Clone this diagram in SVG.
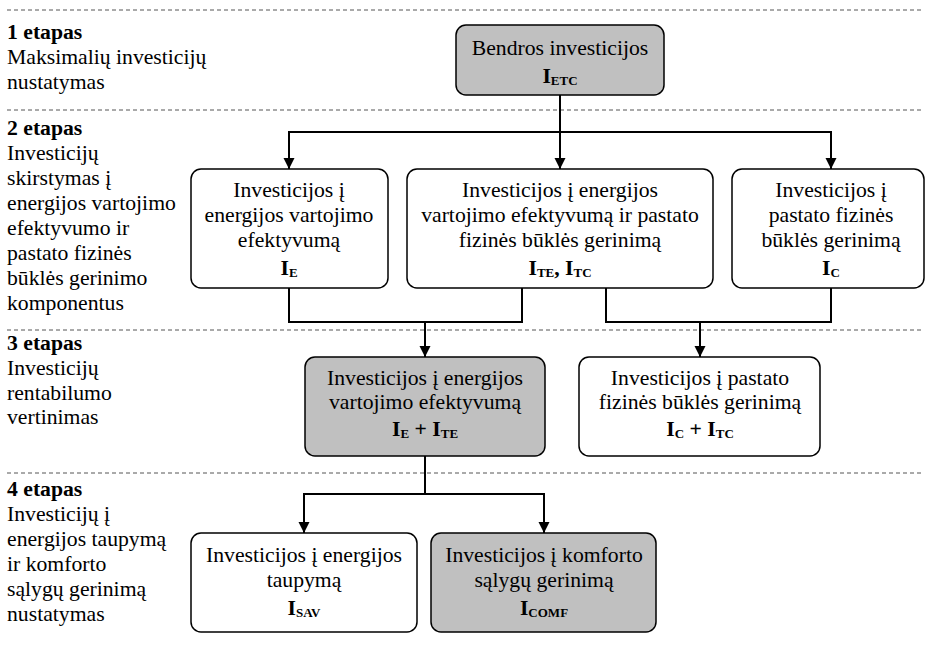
<svg xmlns="http://www.w3.org/2000/svg" width="926" height="652" viewBox="0 0 926 652">
  <style>
    text { font-family: "Liberation Serif", "Times New Roman", serif; font-size: 21.7px; fill: #000; }
    .b { font-weight: bold; }
    .c { text-anchor: middle; }
    .sub { font-size: 13px; font-weight: bold; }
    .box { fill: #fff; stroke: #000; stroke-width: 1.5; }
    .gray { fill: #c0c0c0; stroke: #000; stroke-width: 1.5; }
    .sep { stroke: #555; stroke-width: 1; stroke-dasharray: 4 3; fill: none; }
    .con { stroke: #000; stroke-width: 2; fill: none; }
  </style>
  <defs>
    <marker id="arrow" markerUnits="userSpaceOnUse" markerWidth="12" markerHeight="12" refX="11" refY="5.5" orient="auto">
      <path d="M0,0 L11,5.5 L0,11 Z" fill="#000"/>
    </marker>
  </defs>

  <!-- stage separators -->
  <g id="separators">
    <line class="sep" x1="7" y1="10" x2="922" y2="10"/>
    <line class="sep" x1="7" y1="110" x2="922" y2="110"/>
    <line class="sep" x1="7" y1="330" x2="922" y2="330"/>
    <line class="sep" x1="7" y1="473" x2="922" y2="473"/>
  </g>

  <!-- stage descriptions -->
  <g id="stage1">
    <text x="7" y="39" class="b">1 etapas</text>
    <text x="7" y="64">Maksimalių investicijų</text>
    <text x="7" y="89">nustatymas</text>
  </g>
  <g id="stage2">
    <text x="7" y="135" class="b">2 etapas</text>
    <text x="7" y="160">Investicijų</text>
    <text x="7" y="185">skirstymas į</text>
    <text x="7" y="210">energijos vartojimo</text>
    <text x="7" y="235">efektyvumo ir</text>
    <text x="7" y="260">pastato fizinės</text>
    <text x="7" y="285">būklės gerinimo</text>
    <text x="7" y="310">komponentus</text>
  </g>
  <g id="stage3">
    <text x="7" y="350" class="b">3 etapas</text>
    <text x="7" y="375">Investicijų</text>
    <text x="7" y="400">rentabilumo</text>
    <text x="7" y="424">vertinimas</text>
  </g>
  <g id="stage4">
    <text x="7" y="496" class="b">4 etapas</text>
    <text x="7" y="521">Investicijų į</text>
    <text x="7" y="546">energijos taupymą</text>
    <text x="7" y="571">ir komforto</text>
    <text x="7" y="596">sąlygų gerinimą</text>
    <text x="7" y="621">nustatymas</text>
  </g>

  <!-- connectors -->
  <g id="connectors">
    <path class="con" d="M560,95 V169" marker-end="url(#arrow)"/>
    <path class="con" d="M560,132 H289 V169" marker-end="url(#arrow)"/>
    <path class="con" d="M560,132 H831 V169" marker-end="url(#arrow)"/>
    <path class="con" d="M289,288 V322 H425 V357" marker-end="url(#arrow)"/>
    <path class="con" d="M522,288 V322 H425"/>
    <path class="con" d="M606,288 V322 H831 V288"/>
    <path class="con" d="M700,322 V357" marker-end="url(#arrow)"/>
    <path class="con" d="M425,456 V494 H304 V533" marker-end="url(#arrow)"/>
    <path class="con" d="M425,494 H544 V533" marker-end="url(#arrow)"/>
  </g>

  <!-- nodes -->
  <g id="total">
    <rect class="gray" x="456" y="25" width="208" height="70" rx="10"/>
    <text x="560" y="55" class="c">Bendros investicijos</text>
    <text x="560" y="83" class="c b">I<tspan class="sub" dy="2">ETC</tspan></text>
  </g>

  <g id="energy-efficiency">
    <rect class="box" x="191" y="169" width="197" height="119" rx="10"/>
    <text x="289" y="197" class="c">Investicijos į</text>
    <text x="289" y="222" class="c">energijos vartojimo</text>
    <text x="289" y="247" class="c">efektyvumą</text>
    <text x="289" y="275" class="c b">I<tspan class="sub" dy="2">E</tspan></text>
  </g>

  <g id="combined">
    <rect class="box" x="407" y="169" width="306" height="119" rx="10"/>
    <text x="560" y="197" class="c">Investicijos į energijos</text>
    <text x="560" y="222" class="c">vartojimo efektyvumą ir pastato</text>
    <text x="560" y="247" class="c">fizinės būklės gerinimą</text>
    <text x="560" y="275" class="c b">I<tspan class="sub" dy="2">TE</tspan><tspan dy="-2">, I</tspan><tspan class="sub" dy="2">TC</tspan></text>
  </g>

  <g id="building-condition">
    <rect class="box" x="732" y="169" width="192" height="119" rx="10"/>
    <text x="831" y="197" class="c">Investicijos į</text>
    <text x="831" y="222" class="c">pastato fizinės</text>
    <text x="831" y="247" class="c">būklės gerinimą</text>
    <text x="831" y="275" class="c b">I<tspan class="sub" dy="2">C</tspan></text>
  </g>

  <g id="efficiency-total">
    <rect class="gray" x="305" y="357" width="240" height="99" rx="10"/>
    <text x="425" y="385" class="c">Investicijos į energijos</text>
    <text x="425" y="409" class="c">vartojimo efektyvumą</text>
    <text x="425" y="436" class="c b">I<tspan class="sub" dy="2">E</tspan><tspan dy="-2"> + I</tspan><tspan class="sub" dy="2">TE</tspan></text>
  </g>

  <g id="condition-total">
    <rect class="box" x="579" y="357" width="241" height="99" rx="10"/>
    <text x="700" y="385" class="c">Investicijos į pastato</text>
    <text x="700" y="409" class="c">fizinės būklės gerinimą</text>
    <text x="700" y="436" class="c b">I<tspan class="sub" dy="2">C</tspan><tspan dy="-2"> + I</tspan><tspan class="sub" dy="2">TC</tspan></text>
  </g>

  <g id="saving">
    <rect class="box" x="191" y="533" width="226" height="99" rx="10"/>
    <text x="304" y="562" class="c">Investicijos į energijos</text>
    <text x="304" y="587" class="c">taupymą</text>
    <text x="304" y="615" class="c b">I<tspan class="sub" dy="2">SAV</tspan></text>
  </g>

  <g id="comfort">
    <rect class="gray" x="431" y="533" width="225" height="99" rx="10"/>
    <text x="544" y="562" class="c">Investicijos į komforto</text>
    <text x="544" y="587" class="c">sąlygų gerinimą</text>
    <text x="544" y="615" class="c b">I<tspan class="sub" dy="2">COMF</tspan></text>
  </g>
</svg>
